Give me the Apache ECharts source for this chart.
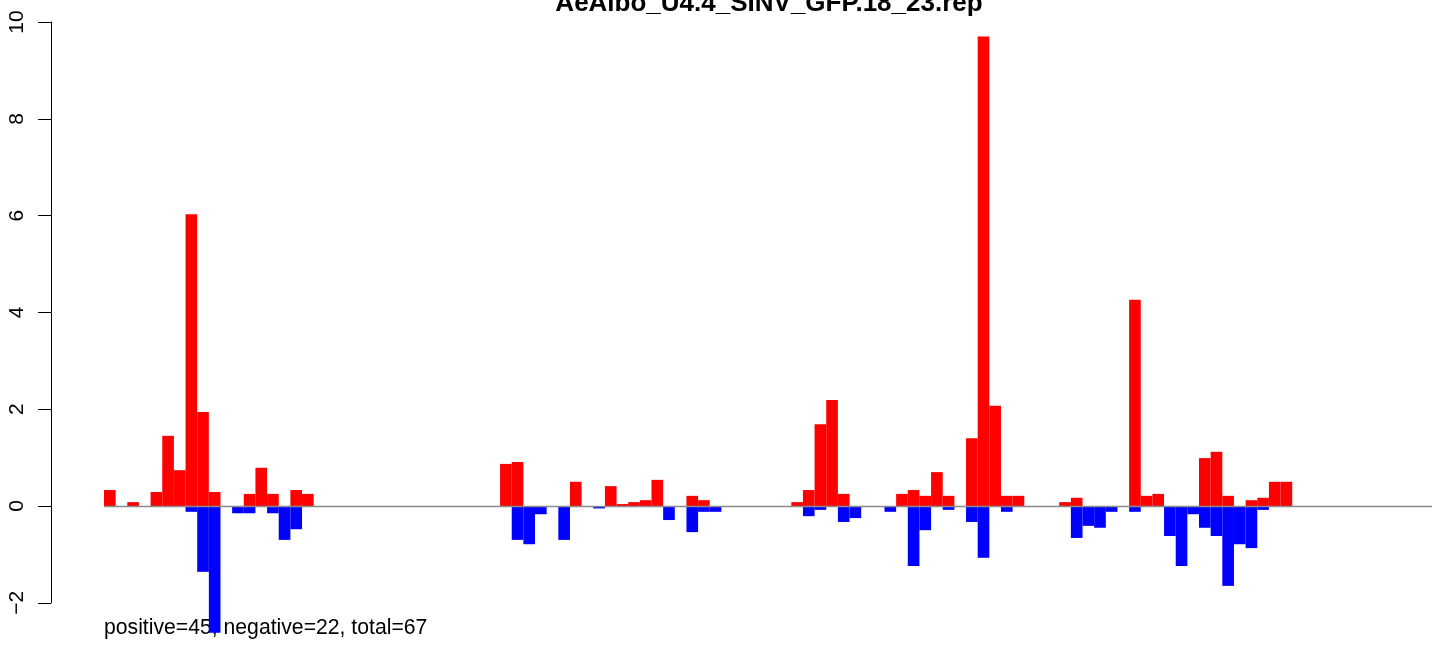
<!DOCTYPE html>
<html>
<head>
<meta charset="utf-8">
<script src="https://cdn.jsdelivr.net/npm/echarts@6/dist/echarts.min.js"></script>
<style>
  html, body { margin: 0; padding: 0; background: #ffffff; }
  #chart { width: 1444px; height: 645px; }
</style>
</head>
<body>
<div id="chart"></div>
<script>
// ---- data ----
const chartTitle = "AeAlbo_U4.4_SINV_GFP.18_23.rep";
const footnote = "positive=45, negative=22, total=67";
const yTicks = [-2, 0, 2, 4, 6, 8, 10];

// 114 bins; positive (red) values
const posValues = [
  0.33, null, 0.08, null, 0.29, 1.45, 0.74, 6.03, 1.94, 0.29,
  null, null, 0.25, 0.79, 0.25, null, 0.33, 0.25, null, null,
  null, null, null, null, null, null, null, null, null, null,
  null, null, null, null, 0.87, 0.91, null, null, null, null,
  0.50, null, null, 0.41, 0.04, 0.08, 0.12, 0.54, null, null,
  0.21, 0.12, null, null, null, null, null, null, null, 0.08,
  0.33, 1.69, 2.19, 0.25, null, null, null, null, 0.25, 0.33,
  0.21, 0.70, 0.21, null, 1.40, 9.70, 2.07, 0.21, 0.21, null,
  null, null, 0.08, 0.17, null, null, null, null, 4.26, 0.21,
  0.25, null, null, null, 0.99, 1.12, 0.21, null, 0.12, 0.17,
  0.50, 0.50, null, null, null, null, null, null, null, null,
  null, null, null, null
];
// negative (blue) values
const negValues = [
  null, null, null, null, null, null, null, -0.12, -1.36, -2.62,
  null, -0.15, -0.15, null, -0.15, -0.70, -0.48, null, null, null,
  null, null, null, null, null, null, null, null, null, null,
  null, null, null, null, null, -0.70, -0.79, -0.17, null, -0.70,
  null, null, -0.05, null, null, null, null, null, -0.29, null,
  -0.54, -0.12, -0.12, null, null, null, null, null, null, null,
  -0.21, -0.08, null, -0.33, -0.25, null, null, -0.12, null, -1.24,
  -0.50, null, -0.08, null, -0.33, -1.07, null, -0.12, null, null,
  null, null, null, -0.66, -0.41, -0.45, -0.12, null, -0.12, null,
  null, -0.62, -1.24, -0.17, -0.45, -0.62, -1.65, -0.79, -0.87, -0.08,
  null, null, null, null, null, null, null, null, null, null,
  null, null, null, null
];
const binLabels = posValues.map((_, i) => String(i + 1));

const FONT = "'Liberation Sans', Arial, Helvetica, sans-serif";

const chart = echarts.init(document.getElementById('chart'), null, { renderer: 'canvas' });
chart.setOption({
  animation: false,
  backgroundColor: '#ffffff',
  grid: { left: 104, right: 12, top: 22, bottom: 42.2, containLabel: false },
  xAxis: {
    type: 'category',
    data: binLabels,
    show: false,
    boundaryGap: true
  },
  yAxis: {
    type: 'value',
    min: yTicks[0],
    max: yTicks[yTicks.length - 1],
    interval: 2,
    offset: 53,
    splitLine: { show: false },
    axisLine: { show: true, lineStyle: { color: '#000000', width: 1 } },
    axisTick: { show: true, length: 13, lineStyle: { color: '#000000', width: 1 } },
    axisLabel: {
      show: true,
      rotate: 90,
      margin: 23,
      color: '#000000',
      fontSize: 21,
      fontFamily: FONT,
      formatter: v => String(v).replace('-', '\u2212')
    }
  },
  graphic: [
    {
      type: 'text',
      x: 769, y: 4,
      style: {
        text: chartTitle,
        fill: '#000000',
        font: "bold 26px " + FONT,
        textAlign: 'center',
        textVerticalAlign: 'middle'
      }
    },
    {
      type: 'text',
      x: 104, y: 628,
      style: {
        text: footnote,
        fill: '#000000',
        font: "21.2px " + FONT,
        textAlign: 'left',
        textVerticalAlign: 'middle'
      }
    }
  ],
  series: [
    {
      name: 'positive',
      type: 'bar',
      data: posValues,
      barWidth: '100%',
      barGap: '-100%',
      clip: false,
      itemStyle: { color: '#ff0000' }
    },
    {
      name: 'negative',
      type: 'bar',
      data: negValues,
      barWidth: '100%',
      barGap: '-100%',
      clip: false,
      itemStyle: { color: '#0000ff' },
      markLine: {
        silent: true,
        symbol: ['none', 'none'],
        label: { show: false },
        lineStyle: { color: '#8a8a8a', width: 1.3, type: 'solid' },
        data: [{ yAxis: 0 }]
      }
    }
  ]
});
</script>
</body>
</html>
